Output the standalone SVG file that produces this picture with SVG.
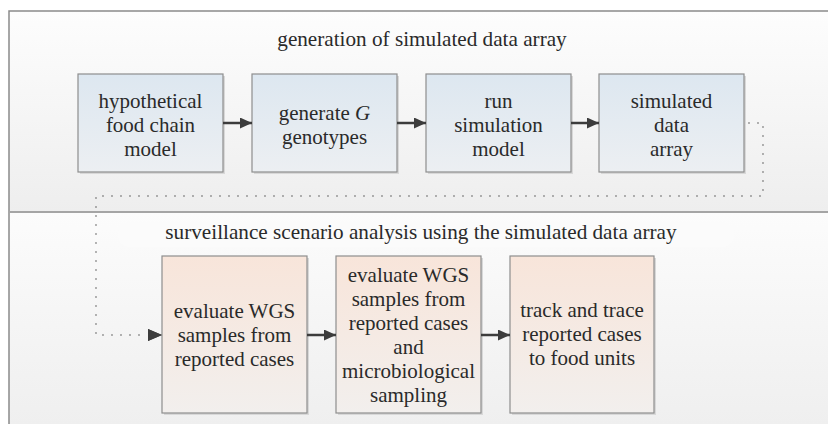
<svg xmlns="http://www.w3.org/2000/svg" width="828" height="424" viewBox="0 0 828 424">
  <defs>
    <linearGradient id="panelTop" x1="0" y1="0" x2="0" y2="1">
      <stop offset="0" stop-color="#fdfdfd"/>
      <stop offset="1" stop-color="#eeeeee"/>
    </linearGradient>
    <linearGradient id="panelBot" x1="0" y1="0" x2="0" y2="1">
      <stop offset="0" stop-color="#fcfcfc"/>
      <stop offset="1" stop-color="#efefef"/>
    </linearGradient>
    <linearGradient id="blueFill" x1="0" y1="0" x2="0" y2="1">
      <stop offset="0" stop-color="#dde7f0"/>
      <stop offset="1" stop-color="#eceff2"/>
    </linearGradient>
    <linearGradient id="peachFill" x1="0" y1="0" x2="0" y2="1">
      <stop offset="0" stop-color="#f8e5da"/>
      <stop offset="1" stop-color="#f2efed"/>
    </linearGradient>
    <marker id="arrow" viewBox="0 0 12 11" refX="12" refY="5.5" markerWidth="12" markerHeight="11" markerUnits="userSpaceOnUse" orient="auto">
      <path d="M0,0 L12,5.5 L0,11 z" fill="#3c3c3c"/>
    </marker>
    <marker id="arrowBig" viewBox="0 0 14 12" refX="14" refY="6" markerWidth="14" markerHeight="12" markerUnits="userSpaceOnUse" orient="auto">
      <path d="M0,0 L14,6 L0,12 z" fill="#3c3c3c"/>
    </marker>
  </defs>
  <style>
    .label { font-family: "Liberation Serif", "Times New Roman", serif; font-size: 21px; fill: #2a2a2a; text-anchor: middle; }
    .title { font-family: "Liberation Serif", "Times New Roman", serif; font-size: 21.2px; fill: #2a2a2a; text-anchor: middle; }
    .box { stroke: #8e8e8e; stroke-width: 1.2; }
    .shadow { fill: #d8d8d8; }
    .solid { stroke: #3c3c3c; stroke-width: 2.5; fill: none; }
    .dots { stroke: #555555; stroke-width: 1.6; fill: none; stroke-linecap: round; stroke-dasharray: 0 9; }
  </style>

  <!-- panels -->
  <g id="panels">
    <rect x="9" y="11" width="819" height="201" fill="url(#panelTop)"/>
    <rect x="9" y="212" width="819" height="212" fill="url(#panelBot)"/>
    <rect x="118" y="222" width="616" height="25" rx="12" fill="#fbfbfb"/>
    <path d="M9,424 V11 H828" fill="none" stroke="#8a8a8a" stroke-width="1.5"/>
    <line x1="9" y1="212" x2="828" y2="212" stroke="#a5a5a5" stroke-width="2"/>
  </g>

  <g id="title-top">
    <text class="title" x="422" y="46">generation of simulated data array</text>
  </g>
  <g id="title-bottom">
    <text class="title" x="421" y="239">surveillance scenario analysis using the simulated data array</text>
  </g>

  <!-- top row nodes -->
  <g id="node-food-chain">
    <rect class="shadow" x="80" y="76" width="145" height="98"/>
    <rect class="box" x="78" y="74" width="145" height="98" fill="url(#blueFill)"/>
    <text class="label" x="150.5" y="108">hypothetical</text>
    <text class="label" x="150.5" y="132">food chain</text>
    <text class="label" x="150.5" y="156">model</text>
  </g>
  <g id="node-genotypes">
    <rect class="shadow" x="254" y="76" width="145" height="98"/>
    <rect class="box" x="252" y="74" width="145" height="98" fill="url(#blueFill)"/>
    <text class="label" x="324.5" y="120">generate <tspan font-style="italic">G</tspan></text>
    <text class="label" x="324.5" y="144">genotypes</text>
  </g>
  <g id="node-run-sim">
    <rect class="shadow" x="428" y="76" width="145" height="98"/>
    <rect class="box" x="426" y="74" width="145" height="98" fill="url(#blueFill)"/>
    <text class="label" x="498.5" y="108">run</text>
    <text class="label" x="498.5" y="132">simulation</text>
    <text class="label" x="498.5" y="156">model</text>
  </g>
  <g id="node-data-array">
    <rect class="shadow" x="601" y="76" width="145" height="98"/>
    <rect class="box" x="599" y="74" width="145" height="98" fill="url(#blueFill)"/>
    <text class="label" x="671.5" y="108">simulated</text>
    <text class="label" x="671.5" y="132">data</text>
    <text class="label" x="671.5" y="156">array</text>
  </g>

  <!-- bottom row nodes -->
  <g id="node-eval-cases">
    <rect class="shadow" x="164" y="258" width="145" height="157"/>
    <rect class="box" x="162" y="256" width="145" height="157" fill="url(#peachFill)"/>
    <text class="label" x="234.5" y="318">evaluate WGS</text>
    <text class="label" x="234.5" y="342">samples from</text>
    <text class="label" x="234.5" y="366">reported cases</text>
  </g>
  <g id="node-eval-micro">
    <rect class="shadow" x="338" y="258" width="145" height="157"/>
    <rect class="box" x="336" y="256" width="145" height="157" fill="url(#peachFill)"/>
    <text class="label" x="408.5" y="282">evaluate WGS</text>
    <text class="label" x="408.5" y="306">samples from</text>
    <text class="label" x="408.5" y="330">reported cases</text>
    <text class="label" x="408.5" y="354">and</text>
    <text class="label" x="408.5" y="378">microbiological</text>
    <text class="label" x="408.5" y="402">sampling</text>
  </g>
  <g id="node-track-trace">
    <rect class="shadow" x="512" y="258" width="144" height="157"/>
    <rect class="box" x="510" y="256" width="144" height="157" fill="url(#peachFill)"/>
    <text class="label" x="582" y="317">track and trace</text>
    <text class="label" x="582" y="341">reported cases</text>
    <text class="label" x="582" y="365">to food units</text>
  </g>

  <!-- connectors -->
  <g id="connectors">
    <line class="solid" x1="223" y1="123" x2="252" y2="123" marker-end="url(#arrow)"/>
    <line class="solid" x1="397" y1="123" x2="426" y2="123" marker-end="url(#arrow)"/>
    <line class="solid" x1="571" y1="123" x2="599" y2="123" marker-end="url(#arrow)"/>
    <line class="solid" x1="307" y1="335" x2="336" y2="335" marker-end="url(#arrow)"/>
    <line class="solid" x1="481" y1="335" x2="510" y2="335" marker-end="url(#arrow)"/>
    <path class="dots" d="M749,123 H763 V196 H96 V335 H146"/>
    <line x1="146" y1="335" x2="162" y2="335" stroke="none" marker-end="url(#arrowBig)"/>
    <path d="M148,329 L162,335 L148,341 z" fill="#3c3c3c"/>
  </g>
</svg>
